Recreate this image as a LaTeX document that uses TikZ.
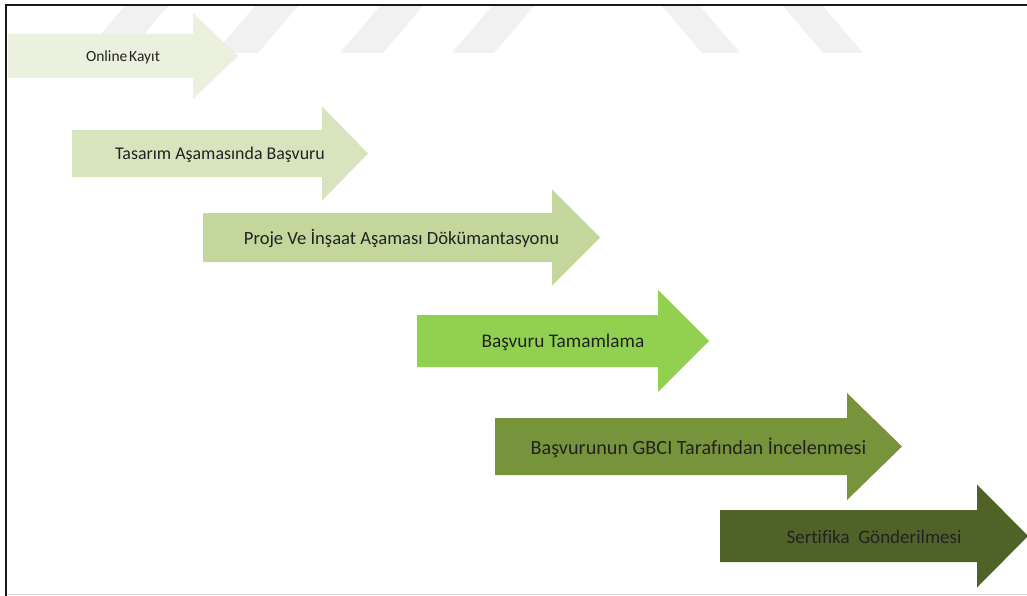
\documentclass[tikz,border=0pt]{standalone}
\usepackage{fontspec}
\setmainfont{Carlito}[Ligatures=NoCommon]
\definecolor{gA}{HTML}{EBF1DE}
\definecolor{gB}{HTML}{D7E4BD}
\definecolor{gC}{HTML}{C3D69B}
\definecolor{gD}{HTML}{92D050}
\definecolor{gE}{HTML}{77933C}
\definecolor{gF}{HTML}{4F6228}
\definecolor{txt}{HTML}{222222}
\definecolor{wm}{HTML}{F1F1F1}
\newcommand{\garrow}[8]{%
  \fill[#1] (#2,{#5-#6}) -- (#3,{#5-#6}) -- (#3,{#5-#7}) -- (#4,#5)
    -- (#3,{#5+#7}) -- (#3,{#5+#6}) -- (#2,{#5+#6}) -- cycle;
  \node[steptext] (#8) at ({(#2+#4)/2},{#5+1}) {};}
\tikzset{
  steptext/.style={inner sep=0pt, text=txt, anchor=center},
  stripe/.style={fill=wm},
}
\begin{document}
\begin{tikzpicture}[x=1pt,y=-1pt]
\useasboundingbox (0,0) rectangle (1027,596);
\fill[white] (0,0) rectangle (1027,596);
% watermark stripes
\fill[stripe] (85,53) -- (128,53) -- (168,6) -- (125,6) -- cycle;
\fill[stripe] (215,53) -- (258,53) -- (298,6) -- (255,6) -- cycle;
\fill[stripe] (340,53) -- (383,53) -- (423,6) -- (380,6) -- cycle;
\fill[stripe] (452,53) -- (494,53) -- (534,6) -- (492,6) -- cycle;
\fill[stripe] (702,53) -- (740,53) -- (700,6) -- (662,6) -- cycle;
\fill[stripe] (823,53) -- (863,53) -- (823,6) -- (783,6) -- cycle;
% frame
\draw[line width=2pt, black!90] (1027,5) -- (5.5,5) -- (5.5,596);
\draw[line width=1pt, black!15] (6.5,594.5) -- (1027,594.5);
% arrows
\garrow{gA}{8}{193}{238}{56}{22}{43}{a1}
\garrow{gB}{72}{322}{368}{153.5}{23.5}{47}{a2}
\garrow{gC}{203}{552}{600}{237.5}{24.5}{48}{a3}
\garrow{gD}{417}{658}{709}{341}{26}{51}{a4}
\garrow{gE}{495}{847}{902}{446.5}{28.5}{53.5}{a5}
\garrow{gF}{720}{977}{1028}{536}{26}{51.5}{a6}
% labels
\node[steptext, font=\fontsize{15.5}{18}\selectfont] (t1) at (a1) {Online\hspace{0.12em}Kayıt};
\node[steptext, font=\fontsize{17.9}{21}\selectfont] (t2) at (a2) {Tasarım Aşamasında Başvuru};
\node[steptext, font=\fontsize{18.6}{22}\selectfont] (t3) at (a3) {Proje Ve İnşaat Aşaması Dökümantasyonu};
\node[steptext, font=\fontsize{19.3}{23}\selectfont] (t4) at (a4) {Başvuru Tamamlama};
\node[steptext, font=\fontsize{20.2}{24}\selectfont] (t5) at (a5) {Başvurunun GBCI Tarafından İncelenmesi};
\node[steptext, font=\fontsize{19}{23}\selectfont] (t6) at (a6) {Sertifika\ \ Gönderilmesi};
\end{tikzpicture}
\end{document}
